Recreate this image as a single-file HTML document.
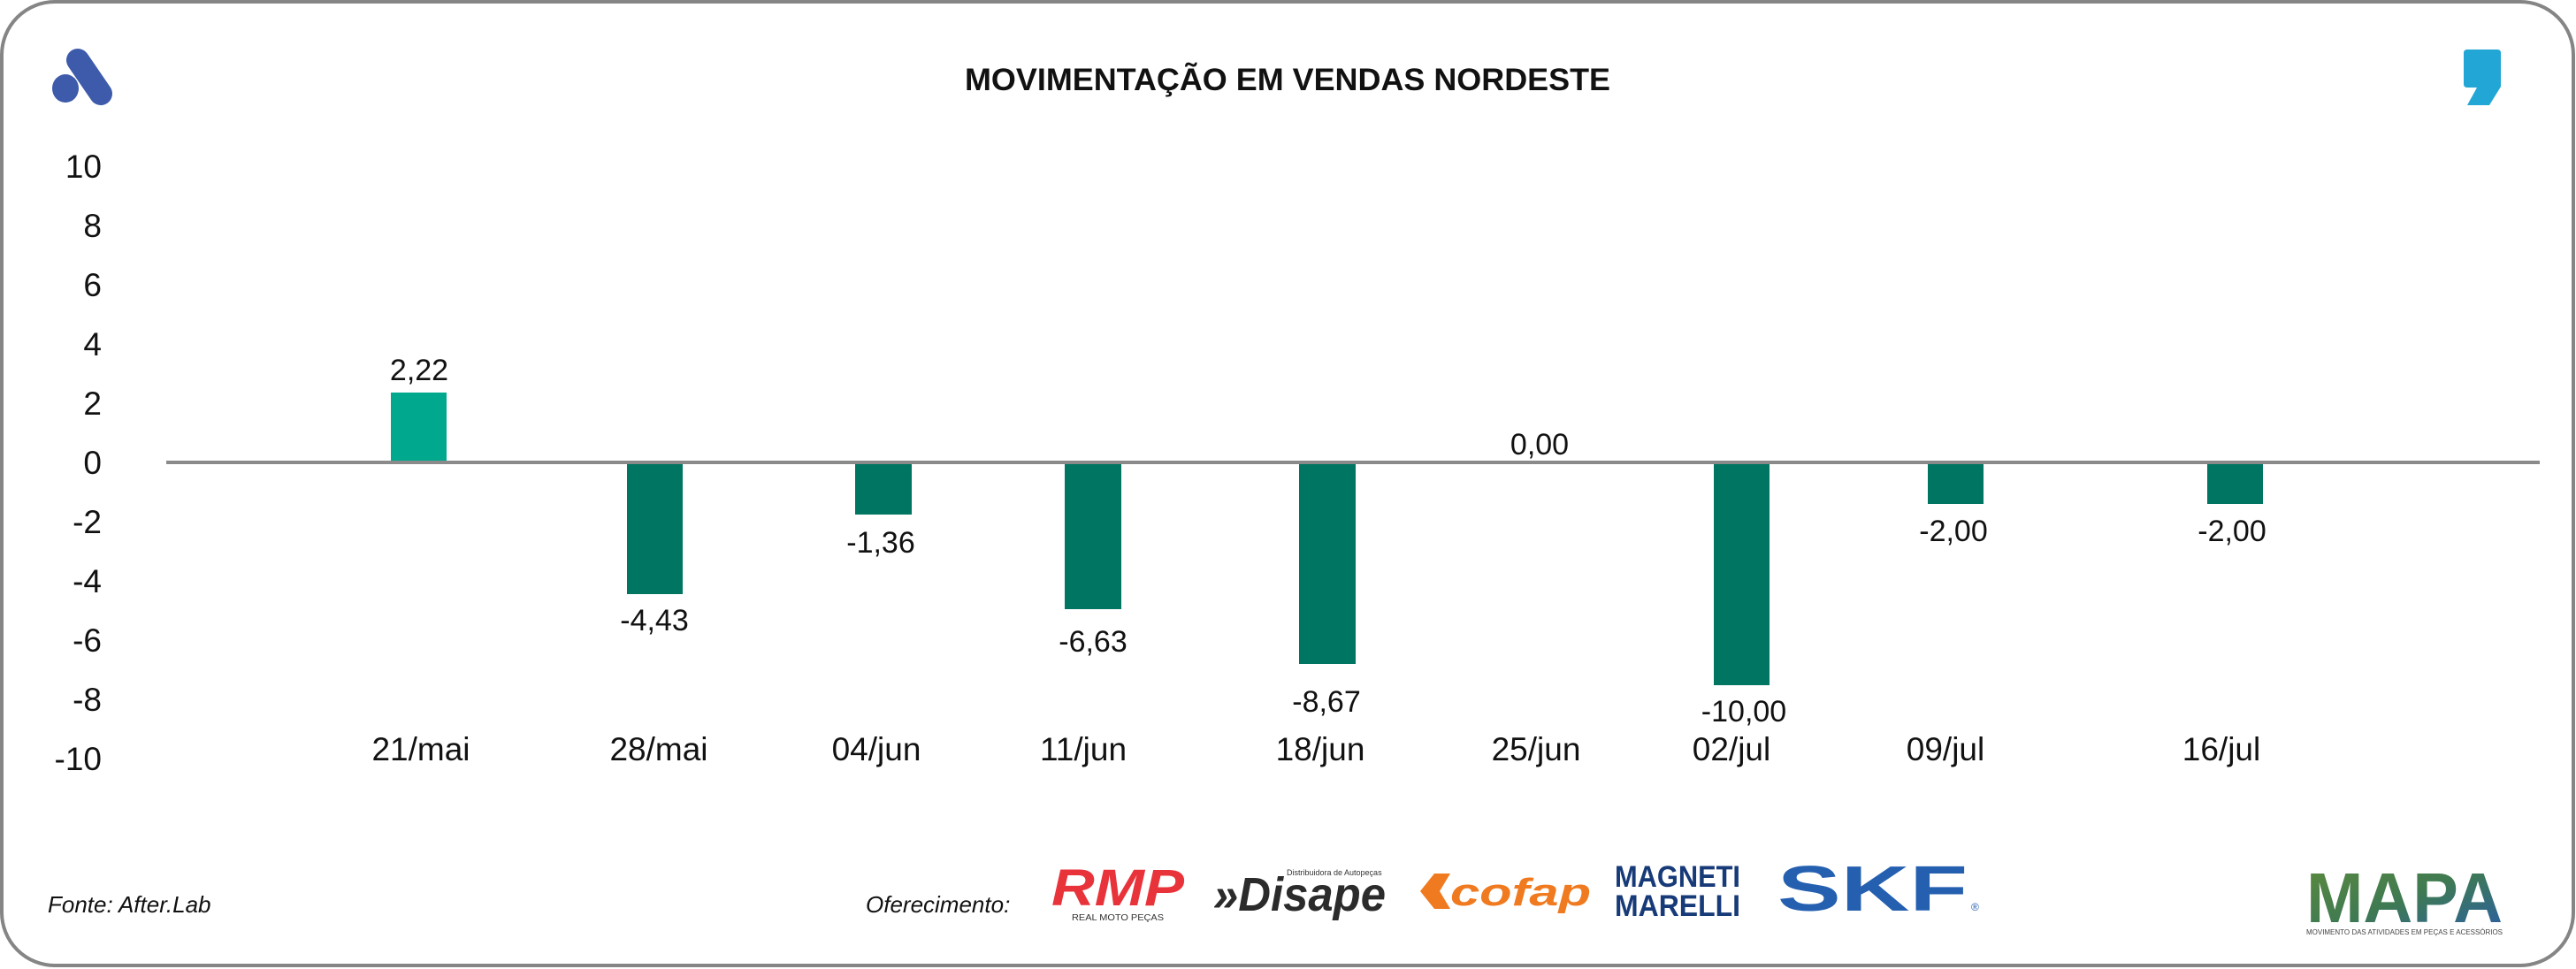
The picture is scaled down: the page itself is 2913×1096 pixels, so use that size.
<!DOCTYPE html>
<html><head><meta charset="utf-8"><style>
html,body{margin:0;padding:0;background:#fff}
svg{display:block}
.n{font-family:"Liberation Sans Narrow","Liberation Sans",sans-serif;fill:#111}
</style></head><body>
<svg width="2913" height="1096" viewBox="0 0 2913 1096" xmlns="http://www.w3.org/2000/svg">
<rect x="2" y="2" width="2908" height="1090" rx="60" ry="60" fill="#fff" stroke="#858585" stroke-width="4"/>
<!-- A logo -->
<line x1="88" y1="68" x2="114" y2="106" stroke="#3d5baa" stroke-width="26" stroke-linecap="round"/>
<ellipse cx="74" cy="100" rx="15" ry="16" fill="#3d5baa"/>
<!-- comma logo -->
<path d="M2786 60 Q2786 56 2790 56 L2824 56 Q2828 56 2828 60 L2828 98 L2815 119 L2790 119 L2801 99 L2790 99 Q2786 99 2786 95 Z" fill="#21a6d6"/>
<text x="1456" y="102" text-anchor="middle" font-family="Liberation Sans,sans-serif" font-weight="bold" font-size="35" fill="#111" textLength="730" lengthAdjust="spacingAndGlyphs">MOVIMENTAÇÃO EM VENDAS NORDESTE</text>
<!-- y ticks -->
<g class="n" font-size="37" text-anchor="end">
<text x="115" y="201">10</text><text x="115" y="268">8</text><text x="115" y="335">6</text>
<text x="115" y="402">4</text><text x="115" y="469">2</text><text x="115" y="536">0</text>
<text x="115" y="603">-2</text><text x="115" y="670">-4</text><text x="115" y="737">-6</text>
<text x="115" y="804">-8</text><text x="115" y="871">-10</text>
</g>
<!-- bars -->
<rect x="442" y="444" width="63" height="79" fill="#00a88d"/>
<g fill="#007561">
<rect x="709" y="523" width="63" height="149"/>
<rect x="967" y="523" width="64" height="59"/>
<rect x="1204" y="523" width="64" height="166"/>
<rect x="1469" y="523" width="64" height="228"/>
<rect x="1938" y="523" width="63" height="252"/>
<rect x="2180" y="523" width="63" height="47"/>
<rect x="2496" y="523" width="63" height="47"/>
</g>
<line x1="188" y1="523" x2="2872" y2="523" stroke="#8a8a8a" stroke-width="4"/>
<!-- value labels -->
<g class="n" font-size="34" text-anchor="middle">
<text x="474" y="430">2,22</text>
<text x="740" y="713">-4,43</text>
<text x="996" y="625">-1,36</text>
<text x="1236" y="737">-6,63</text>
<text x="1500" y="805">-8,67</text>
<text x="1741" y="514">0,00</text>
<text x="1972" y="816">-10,00</text>
<text x="2209" y="612">-2,00</text>
<text x="2524" y="612">-2,00</text>
</g>
<!-- categories -->
<g class="n" font-size="37" text-anchor="middle">
<text x="476" y="860">21/mai</text>
<text x="745" y="860">28/mai</text>
<text x="991" y="860">04/jun</text>
<text x="1225" y="860">11/jun</text>
<text x="1493" y="860">18/jun</text>
<text x="1737" y="860">25/jun</text>
<text x="1958" y="860">02/jul</text>
<text x="2200" y="860">09/jul</text>
<text x="2512" y="860">16/jul</text>
</g>
<text x="54" y="1032" class="n" font-size="26" font-style="italic">Fonte: After.Lab</text>
<text x="979" y="1032" class="n" font-size="26" font-style="italic">Oferecimento:</text>
<!-- sponsor logos -->
<text x="1189" y="1024" font-family="Liberation Sans,sans-serif" font-weight="bold" font-style="italic" font-size="58" fill="#e8333a" textLength="150" lengthAdjust="spacingAndGlyphs">RMP</text>
<text x="1212" y="1041" font-family="Liberation Sans,sans-serif" font-size="10" fill="#333" textLength="104" lengthAdjust="spacingAndGlyphs">REAL MOTO PEÇAS</text>
<text x="1372" y="1030" font-family="Liberation Sans,sans-serif" font-weight="bold" font-style="italic" font-size="54" fill="#2b2b2b" textLength="195" lengthAdjust="spacingAndGlyphs">»Disape</text>
<text x="1455" y="990" font-family="Liberation Sans,sans-serif" font-size="9" fill="#333">Distribuidora de Autopeças</text>
<path d="M1606 1008 L1622 988 L1640 988 L1628 1008 L1640 1028 L1622 1028 Z" fill="#f07a1f"/>
<text x="1640" y="1024" font-family="Liberation Sans,sans-serif" font-weight="bold" font-style="italic" font-size="44" fill="#f07a1f" textLength="159" lengthAdjust="spacingAndGlyphs">cofap</text>
<text x="1826" y="1003" font-family="Liberation Sans Narrow,Liberation Sans,sans-serif" font-weight="bold" font-size="34" fill="#173a78" textLength="142" lengthAdjust="spacingAndGlyphs">MAGNETI</text>
<text x="1826" y="1036" font-family="Liberation Sans Narrow,Liberation Sans,sans-serif" font-weight="bold" font-size="34" fill="#173a78" textLength="142" lengthAdjust="spacingAndGlyphs">MARELLI</text>
<text x="2010" y="1030" font-family="Liberation Sans,sans-serif" font-weight="bold" font-size="72" fill="#2560b0" textLength="215" lengthAdjust="spacingAndGlyphs">SKF</text>
<text x="2229" y="1030" font-family="Liberation Sans,sans-serif" font-size="12" fill="#2560b0">®</text>
<defs><linearGradient id="mg" x1="0" y1="0" x2="1" y2="1"><stop offset="0" stop-color="#5d8a3c"/><stop offset="0.5" stop-color="#3f7a52"/><stop offset="1" stop-color="#2a5ea8"/></linearGradient></defs>
<text x="2608" y="1043" font-family="Liberation Sans,sans-serif" font-weight="bold" font-size="80" fill="url(#mg)" textLength="222" lengthAdjust="spacingAndGlyphs">MAPA</text>
<text x="2608" y="1057" font-family="Liberation Sans,sans-serif" font-size="8" fill="#444" textLength="222" lengthAdjust="spacingAndGlyphs">MOVIMENTO DAS ATIVIDADES EM PEÇAS E ACESSÓRIOS</text>
</svg>
</body></html>
